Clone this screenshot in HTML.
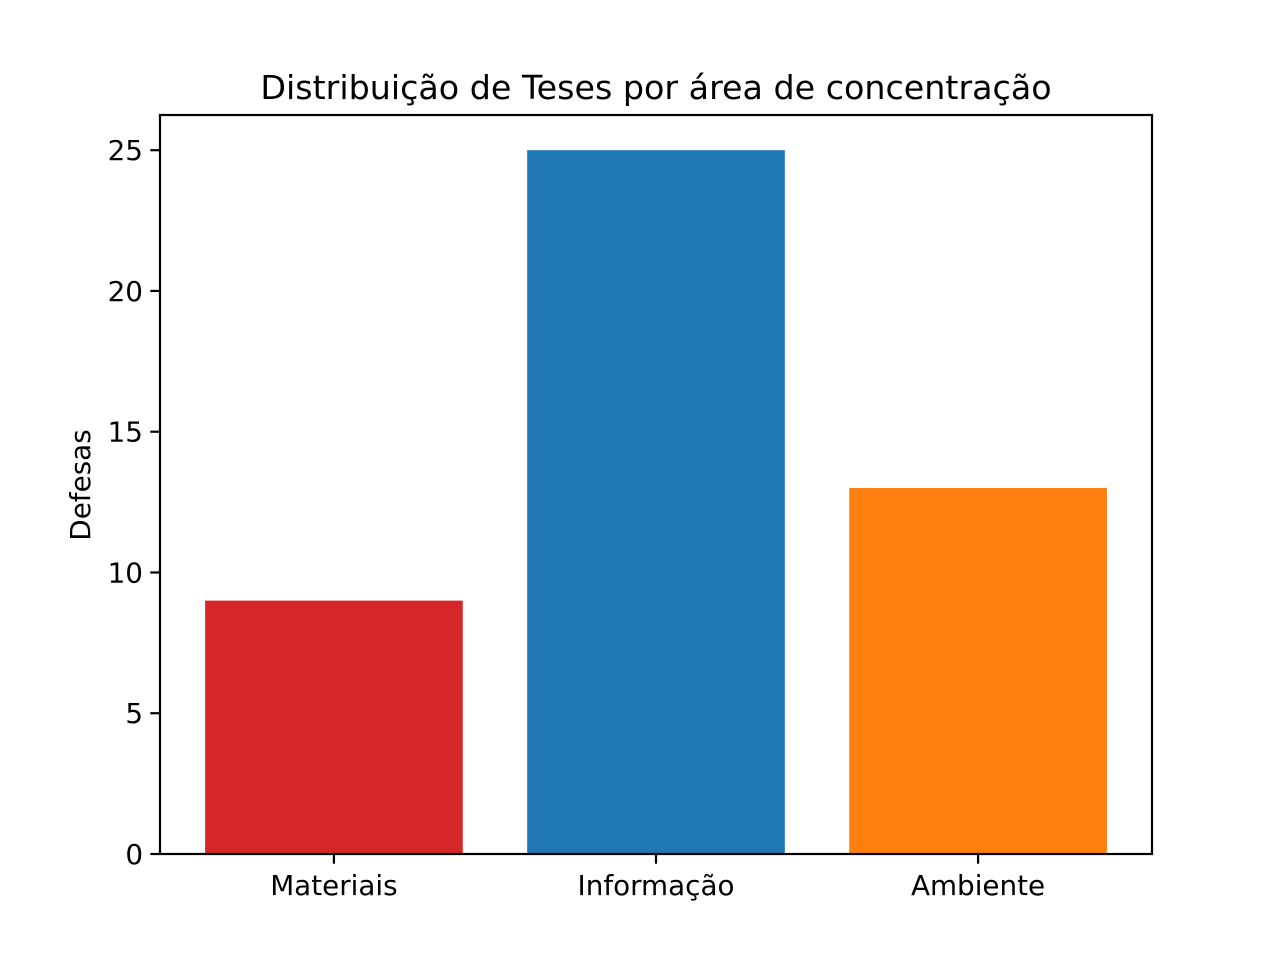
<!DOCTYPE html>
<html><head><meta charset="utf-8"><style>
html,body{margin:0;padding:0;background:#fff;}
svg{display:block;font-family:"DejaVu Sans","Liberation Sans",sans-serif;}
</style></head><body>
<svg id="chart" width="1280" height="960">
<text x="656" y="99" font-size="33.3" text-anchor="middle">Distribuição de Teses por área de concentração</text>
<g id="bars"></g><g id="axes"></g>
<text transform="translate(90,485) rotate(-90)" font-size="27.8" text-anchor="middle">Defesas</text>
</svg>
<script>
const categories=["Materiais","Informação","Ambiente"];
const values=[9,25,13];
const colors=["#d62728","#1f77b4","#ff7f0e"];
const yTicks=[0,5,10,15,20,25];
const L=160,R=1152,T=115,B=854;
const ymax=Math.max(...values)*1.05;
const y=v=>B-(v/ymax)*(B-T);
const xmin=-0.54,xmax=categories.length-1+0.54;
const x=i=>L+(i-xmin)/(xmax-xmin)*(R-L);
const ns="http://www.w3.org/2000/svg";
const bars=document.getElementById('bars'),axes=document.getElementById('axes');
function mk(tag,attrs,parent){const e=document.createElementNS(ns,tag);for(const k in attrs)e.setAttribute(k,attrs[k]);parent.appendChild(e);return e;}
const bw=(x(0.8)-x(0));
values.forEach((v,i)=>{
 const r=mk('rect',{x:x(i)-bw/2,y:y(v),width:bw,height:B-y(v),fill:colors[i]},bars);
 
 
 const t=mk('line',{x1:x(i),x2:x(i),y1:B,y2:B+9.7,stroke:'#000','stroke-width':2.2},axes);
 
 
 const l=mk('text',{x:x(i),y:B+41,'font-size':27.8,'text-anchor':'middle'},axes);
 l.textContent=categories[i];
 
 
});
yTicks.forEach(v=>{
 const t=mk('line',{x1:L-9.7,x2:L,y1:y(v),y2:y(v),stroke:'#000','stroke-width':2.2},axes);
 
 
 const l=mk('text',{x:L-17,y:y(v)+10,'font-size':27.8,'text-anchor':'end'},axes);
 l.textContent=v;
 
 
});
const f=mk('rect',{x:L,y:T,width:R-L,height:B-T,fill:'none',stroke:'#000','stroke-width':2.2},axes);


</script>
</body></html>
